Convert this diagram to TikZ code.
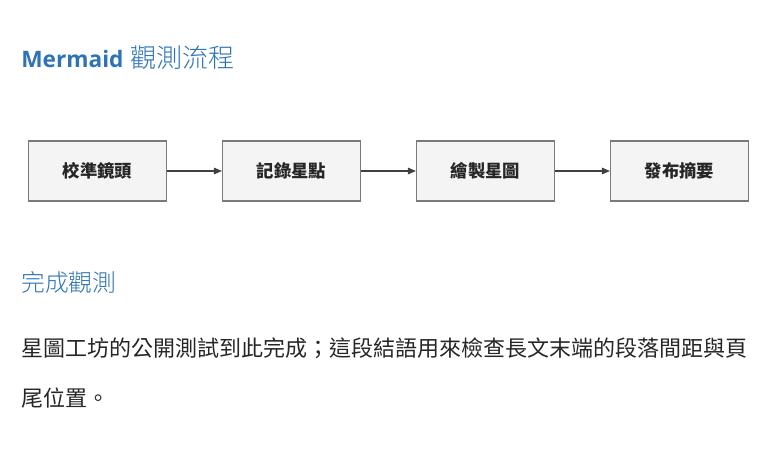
\documentclass[tikz,border=0pt]{standalone}
\usepackage{fontspec}
\setmainfont{Noto Sans CJK TC}
\newfontfamily\latn{Open Sans}
\newfontfamily\cjk{Noto Sans CJK TC}
\newfontfamily\cjklight{Noto Sans CJK TC Light}
\usetikzlibrary{arrows.meta}
\definecolor{ttl}{HTML}{2E74B5}
\definecolor{bx}{HTML}{F4F4F4}
\definecolor{bd}{HTML}{7A7A7A}
\begin{document}
\begin{tikzpicture}[x=0.75pt,y=-0.75pt,
  box/.style={draw=bd,fill=bx,line width=0.9pt,minimum width=103.5pt,minimum height=45pt,inner sep=0,font=\cjk\fontsize{13pt}{15pt}\selectfont\bfseries,text=black!85},
  arr/.style={draw=black!75,line width=0.8pt,-{Triangle[length=6pt,width=5pt]}}]
\path[use as bounding box] (0,0) rectangle (780,460);
\node[anchor=west,text=ttl,inner sep=0] (t) at (21,58) {{\latn\bfseries\fontsize{17pt}{20pt}\selectfont Mermaid}\hspace{5pt}{\cjklight\fontsize{19.5pt}{22pt}\selectfont 觀測流程}};
\node[box] (a) at (97.5,171) {校準鏡頭};
\node[box] (b) at (291.5,171) {記錄星點};
\node[box] (c) at (485.5,171) {繪製星圖};
\node[box] (d) at (679.5,171) {發布摘要};
\draw[arr] (a) -- (b);
\draw[arr] (b) -- (c);
\draw[arr] (c) -- (d);
\node[anchor=west,text=ttl,inner sep=0,font=\cjklight\fontsize{17.8pt}{20pt}\selectfont] (h) at (21,282) {完成觀測};
\node[anchor=west,text=black!85,inner sep=0,font=\cjk\fontsize{16.5pt}{19pt}\selectfont] (p1) at (21,348) {星圖工坊的公開測試到此完成；這段結語用來檢查長文末端的段落間距與頁};
\node[anchor=west,text=black!85,inner sep=0,font=\cjk\fontsize{16.5pt}{19pt}\selectfont] (p2) at (21,398) {尾位置。};
\end{tikzpicture}
\end{document}
